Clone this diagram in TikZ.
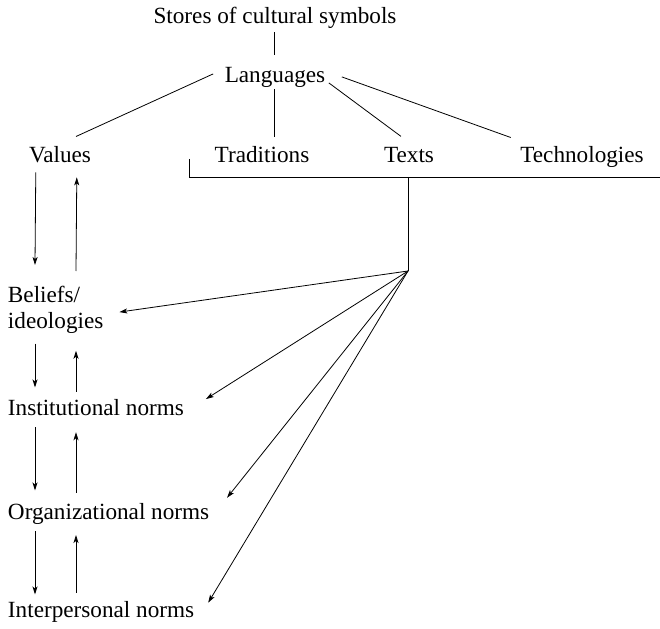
\documentclass[tikz,border=0pt]{standalone}
\usepackage{fontspec}
\setmainfont{Liberation Serif}
\usetikzlibrary{arrows.meta,calc}
\begin{document}
\begin{tikzpicture}[x=1pt,y=-1pt,
  lbl/.style={inner sep=0pt,outer sep=0pt,font=\fontsize{23.2}{26}\selectfont},
  conn/.style={line width=0.8pt},
  arr/.style={line width=0.8pt,-{Stealth[length=8pt,width=5pt,inset=2pt]}}]
\useasboundingbox (0,0) rectangle (660,628);

% top of the hierarchy
\node[lbl,anchor=base] (stores) at (275,24) {Stores of cultural symbols};
\node[lbl,anchor=base] (lang) at (275,83) {Languages};
\node[lbl,anchor=base] (values) at (60,163) {Values};
\node[lbl,anchor=base] (trad) at (262,163) {Traditions};
\node[lbl,anchor=base] (texts) at (409,163) {Texts};
\node[lbl,anchor=base] (tech) at (582,163) {Technologies};

% left column of norms
\node[lbl,anchor=north west,align=left] (bel) at (8,286.4) {Beliefs/\\ideologies};
\node[lbl,anchor=base west] (inst) at (8,415) {Institutional norms};
\node[lbl,anchor=base west] (org) at (8,519) {Organizational norms};
\node[lbl,anchor=base west] (inter) at (8,617) {Interpersonal norms};

% bracket and fan-out point
\coordinate (bktL) at (189,159);
\coordinate (bktR) at (660,177);
\coordinate (hub) at (408,271);

% links from the stores of symbols
\draw[conn] ($(stores.south)+(-1,3)$) -- ($(lang.north)+(-1,-13)$);
\draw[conn] ($(lang.west)+(-11.6,-4)$) -- ($(values.north)+(16,-10.4)$);
\draw[conn] ($(lang.south)+(-1,1)$) -- ($(trad.north)+(12,-10.4)$);
\draw[conn] ($(lang.east)+(3.6,5)$) -- ($(texts.north)+(-8,-11.4)$);
\draw[conn] ($(lang.east)+(16.6,-1)$) -- ($(tech.north west)+(-9.6,-9.4)$);

\draw[conn] (bktL) |- (bktR);
\draw[conn] (hub |- bktR) -- (hub);

% downward and upward influences along the column
\draw[arr] ($(values.south west)+(6.7,9)$) -- ($(bel.north west)+(27,-21.4)$);
\draw[arr] ($(bel.north west)+(68,-15.4)$) -- ($(values.south west)+(47.7,14)$);

\draw[arr] ($(bel.south west)+(27,10)$) -- ($(inst.north west)+(27,-11.4)$);
\draw[arr] ($(inst.north west)+(68,-7.4)$) -- ($(bel.south west)+(68,17)$);

\draw[arr] ($(inst.south west)+(27,12)$) -- ($(org.north west)+(27,-12.4)$);
\draw[arr] ($(org.north west)+(68,-10.4)$) -- ($(inst.south west)+(68,17)$);

\draw[arr] ($(org.south west)+(27,7)$) -- ($(inter.north west)+(27,-6.4)$);
\draw[arr] ($(inter.north west)+(68,-8.4)$) -- ($(org.south west)+(68,11)$);

% fan of arrows from the hub
\draw[arr] (hub) -- ($(bel.east)+(16,2)$);
\draw[arr] (hub) -- ($(inst.east)+(22,-8)$);
\draw[arr] (hub) -- ($(org.east)+(17.8,-15.7)$);
\draw[arr] (hub) -- ($(inter.east)+(14,-8.7)$);
\end{tikzpicture}
\end{document}
